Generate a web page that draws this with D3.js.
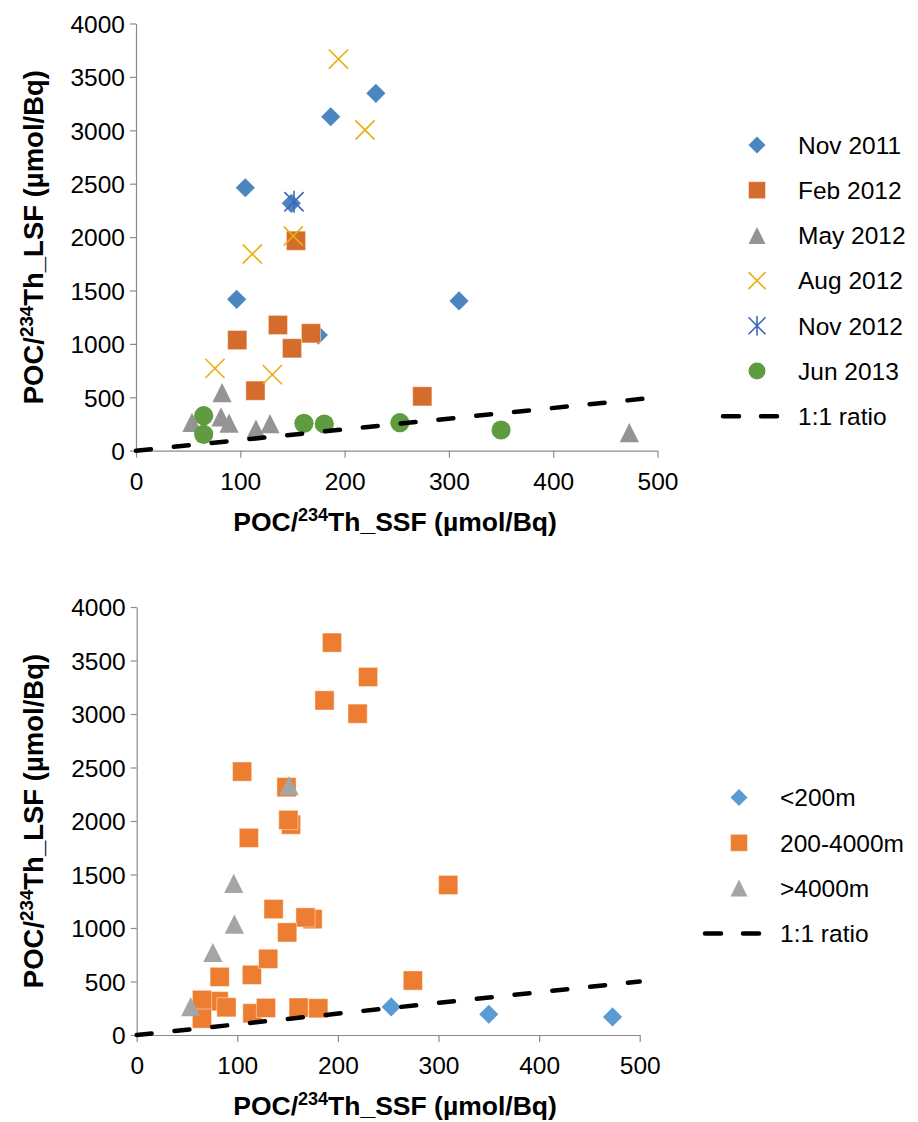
<!DOCTYPE html>
<html>
<head>
<meta charset="utf-8">
<script src="https://cdn.jsdelivr.net/npm/d3@7"></script>
<style>
  body { margin: 0; background: #fff; }
  svg text { font-family: "Liberation Sans", Arial, sans-serif; fill: #000; }
</style>
</head>
<body>
<script>
// ! Data: each point is [POC/234Th_SSF, POC/234Th_LSF]
const nov2011 = [[230, 3346], [186.7, 3127], [104.8, 2462], [148.9, 2316], [96.5, 1417], [309.7, 1402], [174.8, 1083]];
const feb2012 = [[153.4, 1966], [97.1, 1036], [136.1, 1177], [167.8, 1099], [149.6, 959], [114.5, 562], [274.5, 509]];
const may2012 = [[82.5, 543], [53.7, 266], [81.5, 316], [89.2, 259], [115, 203], [128.5, 253], [473, 169]];
const aug2012 = [[111.5, 1842], [150.8, 2010], [75.7, 771], [130.7, 712], [194.1, 3667], [219.6, 3003]];
const nov2012 = [[151.5, 2331]];
const jun2013 = [[64.9, 328], [64.9, 153], [161, 256], [180.5, 250], [253, 262], [350, 194]];

// ! Depth class of every sample (same order as the arrays above)
const nov2011Depth = ["mid", "mid", "mid", "mid", "deep", "mid", "mid"];
const feb2012Depth = ["mid", "deep", "mid", "mid", "mid", "mid", "mid"];
const may2012Depth = ["mid", "deep", "mid", "mid", "mid", "mid", "shallow"];
const aug2012Depth = ["mid", "mid", "deep", "mid", "mid", "mid"];
const nov2012Depth = ["deep"];
const jun2013Depth = ["mid", "mid", "mid", "mid", "shallow", "shallow"];

const cruiseNames = ["Nov 2011", "Feb 2012", "May 2012", "Aug 2012", "Nov 2012", "Jun 2013"];
const depthNames = ["<200m", "200-4000m", ">4000m"];
const ratioLine = [[0, 0], [500, 500]];
const xTicks = [0, 100, 200, 300, 400, 500];
const yTicks = [0, 500, 1000, 1500, 2000, 2500, 3000, 3500, 4000];

// ! SVG
const width = 918;
const height = 1122;
const svg = d3.select("body").append("svg").attr("width", width).attr("height", height);

// ! Marker shapes (r = half size)
const markerPath = (shape, r) => {
  const p = d3.path();
  if (shape === "diamond") {
    p.moveTo(0, -r); p.lineTo(r, 0); p.lineTo(0, r); p.lineTo(-r, 0); p.closePath();
  } else if (shape === "square") {
    p.rect(-r, -r, 2 * r, 2 * r);
  } else if (shape === "triangle") {
    p.moveTo(0, -r); p.lineTo(r, r); p.lineTo(-r, r); p.closePath();
  } else if (shape === "x") {
    p.moveTo(-r, -r); p.lineTo(r, r); p.moveTo(r, -r); p.lineTo(-r, r);
  } else if (shape === "star") {
    p.moveTo(-r, -r); p.lineTo(r, r); p.moveTo(r, -r); p.lineTo(-r, r);
    p.moveTo(0, -r * 1.15); p.lineTo(0, r * 1.15);
  } else if (shape === "circle") {
    p.arc(0, 0, r, 0, 2 * Math.PI);
  }
  return p.toString();
};

const styleMarker = (sel, s) => {
  if (s.shape === "x" || s.shape === "star") {
    sel.attr("fill", "none").attr("stroke", s.color).attr("stroke-width", 1.6);
  } else {
    sel.attr("fill", s.color);
    if (s.shape === "square") sel.attr("stroke", "#fff").attr("stroke-opacity", 0.45).attr("stroke-width", 1);
  }
};

// ! Axis title with superscript
const addTitle = (g, txt, x, y, rotate, size) => {
  const t = g.append("text")
    .attr("text-anchor", "middle")
    .attr("font-weight", "bold")
    .attr("font-size", size)
    .attr("transform", `translate(${x},${y})${rotate ? " rotate(-90)" : ""}`);
  t.append("tspan").text("POC/");
  t.append("tspan").attr("font-size", size * 0.68).attr("dy", -size * 0.38).text("234");
  t.append("tspan").attr("dy", size * 0.38).text(`Th_${txt} (µmol/Bq)`);
};

const drawPanel = (cfg) => {
  const xScale = d3.scaleLinear().domain([0, 500]).range([cfg.left, cfg.right]);
  const yScale = d3.scaleLinear().domain([0, 4000]).range([cfg.bottom, cfg.top]);
  const g = svg.append("g");

  // axes
  const xAxis = g.append("g")
    .attr("transform", `translate(0,${cfg.bottom})`)
    .call(d3.axisBottom(xScale).tickValues(xTicks).tickFormat(d3.format("d"))
      .tickSize(7).tickSizeOuter(0).tickPadding(10));
  const yAxis = g.append("g")
    .attr("transform", `translate(${cfg.left},0)`)
    .call(d3.axisLeft(yScale).tickValues(yTicks).tickFormat(d3.format("d"))
      .tickSize(6).tickSizeOuter(0).tickPadding(5));
  [xAxis, yAxis].forEach((a) => {
    a.selectAll("path, line").attr("stroke", "#8c8c8c").attr("stroke-width", 1.2);
    a.selectAll("text").attr("font-size", 24.5).attr("font-family", null).attr("fill", "#000");
  });
  xAxis.selectAll("text").attr("dy", "0.9em");
  yAxis.selectAll("text").attr("dy", "0.36em");

  addTitle(g, "SSF", 395, cfg.bottom + 80, false, 26.5);
  addTitle(g, "LSF", 43, (cfg.top + cfg.bottom) / 2, true, 27.5);

  // points
  cfg.series.forEach((s) => {
    g.append("g").selectAll("path")
      .data(s.data)
      .enter()
      .append("path")
      .attr("d", markerPath(s.shape, 9.6))
      .attr("transform", (d) => `translate(${xScale(d[0])},${yScale(d[1])})`)
      .call(styleMarker, s);
  });

  // 1:1 line
  g.append("path")
    .datum(ratioLine)
    .attr("d", d3.line().x((d) => xScale(d[0])).y((d) => yScale(d[1])))
    .attr("fill", "none")
    .attr("stroke", "#000")
    .attr("stroke-width", 4.5)
    .attr("stroke-linecap", "round")
    .attr("stroke-dasharray", "15,23");

  // legend
  const leg = g.append("g");
  cfg.series.forEach((s, i) => {
    const y = cfg.legY + i * cfg.legDy;
    leg.append("path")
      .attr("d", markerPath(s.shape, 8.5))
      .attr("transform", `translate(${cfg.legX},${y})`)
      .call(styleMarker, s);
    leg.append("text").attr("x", cfg.legTextX).attr("y", y).attr("dy", "0.36em")
      .attr("font-size", 24.5).text(s.name);
  });
  const ly = cfg.legY + cfg.series.length * cfg.legDy;
  leg.append("line")
    .attr("x1", cfg.legX - 34).attr("x2", cfg.legX + 23).attr("y1", ly).attr("y2", ly)
    .attr("stroke", "#000").attr("stroke-width", 4.5).attr("stroke-linecap", "round")
    .attr("stroke-dasharray", "16,22");
  leg.append("text").attr("x", cfg.legTextX).attr("y", ly).attr("dy", "0.36em")
    .attr("font-size", 24.5).text("1:1 ratio");
};

// ! Top panel: by cruise
const cruiseData = [nov2011, feb2012, may2012, aug2012, nov2012, jun2013];
const cruiseShapes = ["diamond", "square", "triangle", "x", "star", "circle"];
const cruiseColors = ["#4C86C1", "#D46C2B", "#949494", "#E9AF10", "#3F67BE", "#5F9B3F"];
drawPanel({
  left: 136, right: 657.5, top: 23.5, bottom: 450.7,
  legX: 757, legTextX: 798, legY: 145, legDy: 45.2,
  series: cruiseNames.map((name, i) => ({
    name: name, data: cruiseData[i], shape: cruiseShapes[i], color: cruiseColors[i]
  }))
});

// ! Bottom panel: by depth
const allPoints = [];
[[nov2011, nov2011Depth], [feb2012, feb2012Depth], [may2012, may2012Depth],
 [aug2012, aug2012Depth], [nov2012, nov2012Depth], [jun2013, jun2013Depth]]
  .forEach(([pts, dep]) => pts.forEach((p, i) => allPoints.push({ p: p, depth: dep[i] })));
const depthKeys = ["shallow", "mid", "deep"];
const depthShapes = ["diamond", "square", "triangle"];
const depthColors = ["#5B9BD5", "#ED7D31", "#A5A5A5"];
drawPanel({
  left: 136.7, right: 639.7, top: 607, bottom: 1035,
  legX: 739, legTextX: 780, legY: 797.5, legDy: 45.3,
  series: depthNames.map((name, i) => ({
    name: name,
    data: allPoints.filter((d) => d.depth === depthKeys[i]).map((d) => d.p),
    shape: depthShapes[i], color: depthColors[i]
  }))
});
</script>
</body>
</html>
